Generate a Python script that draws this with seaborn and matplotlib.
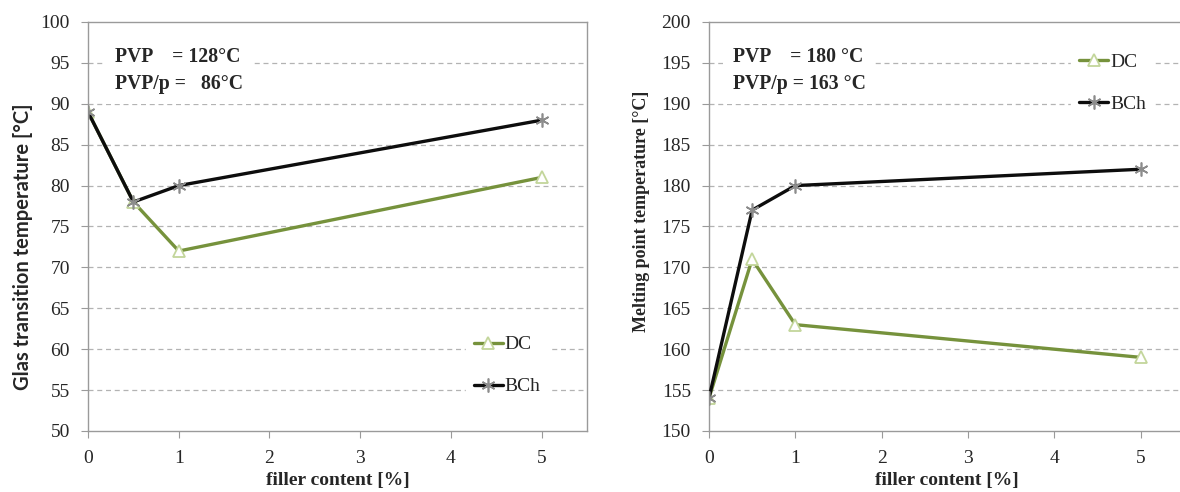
import matplotlib
matplotlib.use("Agg")
import matplotlib.pyplot as plt
import seaborn as sns

# --- data ---
filler = [0, 0.5, 1, 5]
tg_dc = [89, 78, 72, 81]
tg_bch = [89, 78, 80, 88]
tm_dc = [154, 171, 163, 159]
tm_bch = [154, 177, 180, 182]

x_ticks = [0, 1, 2, 3, 4, 5]
tg_ticks = list(range(50, 101, 5))
tm_ticks = list(range(150, 201, 5))

tg_note = ["PVP    = 128°C", "PVP/p =   86°C"]
tm_note = ["PVP    = 180 °C", "PVP/p = 163 °C"]

DC_LINE = "#76923c"
DC_MARK = "#c3d69b"
BCH_LINE = "#0d0d0d"
BCH_MARK = "#8c8c8c"
GRID = "#b3b3b3"
SPINE = "#9a9a9a"

sns.set_style("white")
plt.rcParams["font.family"] = ["Liberation Serif", "DejaVu Serif"]
plt.rcParams["font.size"] = 13


def draw(ax, dc, bch, yticks, ylabel, ylabel_font, ylabel_size, ylabel_xy,
         note, note_xy, leg_anchor):
    sns.lineplot(x=filler, y=dc, ax=ax, color=DC_LINE, lw=2.4, marker="^",
                 markersize=8, markerfacecolor="white", markeredgecolor=DC_MARK,
                 markeredgewidth=1.3, label="DC", zorder=3)
    sns.lineplot(x=filler, y=bch, ax=ax, color=BCH_LINE, lw=2.4, marker=(6, 2, 0),
                 markersize=10, markeredgecolor=BCH_MARK, markeredgewidth=1.2,
                 label="BCh", zorder=4)

    ax.set_xlim(0, 5.5)
    ax.set_ylim(yticks[0], yticks[-1])
    ax.set_xticks(x_ticks)
    ax.set_yticks(yticks)
    for y in yticks[1:-1]:
        ax.axhline(y, color=GRID, lw=0.9, ls=(0, (4, 3)), zorder=1)

    for s in ax.spines.values():
        s.set_color(SPINE)
        s.set_linewidth(1.0)
    ax.tick_params(axis="y", direction="out", length=5, width=0.8, color=SPINE,
                   pad=8, labelsize=14, left=True)
    ax.tick_params(axis="x", direction="out", length=5, width=0.8, color=SPINE,
                   pad=9, labelsize=14, bottom=True)

    ax.set_xlabel("filler content [%]", fontsize=14, fontweight="bold", labelpad=3)
    ax.set_ylabel(ylabel, fontsize=ylabel_size, fontweight="bold", family=ylabel_font)
    ax.yaxis.set_label_coords(*ylabel_xy)

    ax.text(note_xy[0], note_xy[1], "\n".join(note), transform=ax.transAxes,
            fontsize=14.2, fontweight="bold", va="top", ha="left", linespacing=1.5,
            bbox=dict(boxstyle="square,pad=0.5", fc="white", ec="none"), zorder=5)

    leg = ax.legend(loc="center", bbox_to_anchor=leg_anchor, frameon=True,
                    fontsize=14, handlelength=1.5, handletextpad=0.1,
                    labelspacing=1.25, borderpad=0.4)
    leg.get_frame().set_facecolor("white")
    leg.get_frame().set_edgecolor("white")
    leg.get_frame().set_alpha(1)


fig = plt.figure(figsize=(11.8, 4.92), dpi=100)
ax1 = fig.add_axes([0.0746, 0.124, 0.4229, 0.8313])
ax2 = fig.add_axes([0.6008, 0.124, 0.4025, 0.8313])

draw(ax1, tg_dc, tg_bch, tg_ticks, "Glas transition temperature [°C]",
     ["Lato", "DejaVu Sans"], 14.5, (-0.11, 0.45), tg_note, (0.055, 0.94),
     (0.84, 0.16))
draw(ax2, tm_dc, tm_bch, tm_ticks, "Melting point temperature [°C]",
     ["Liberation Serif", "DejaVu Serif"], 13, (-0.125, 0.538), tm_note,
     (0.05, 0.94), (0.85, 0.85))

fig.savefig("out.png", dpi=100)
